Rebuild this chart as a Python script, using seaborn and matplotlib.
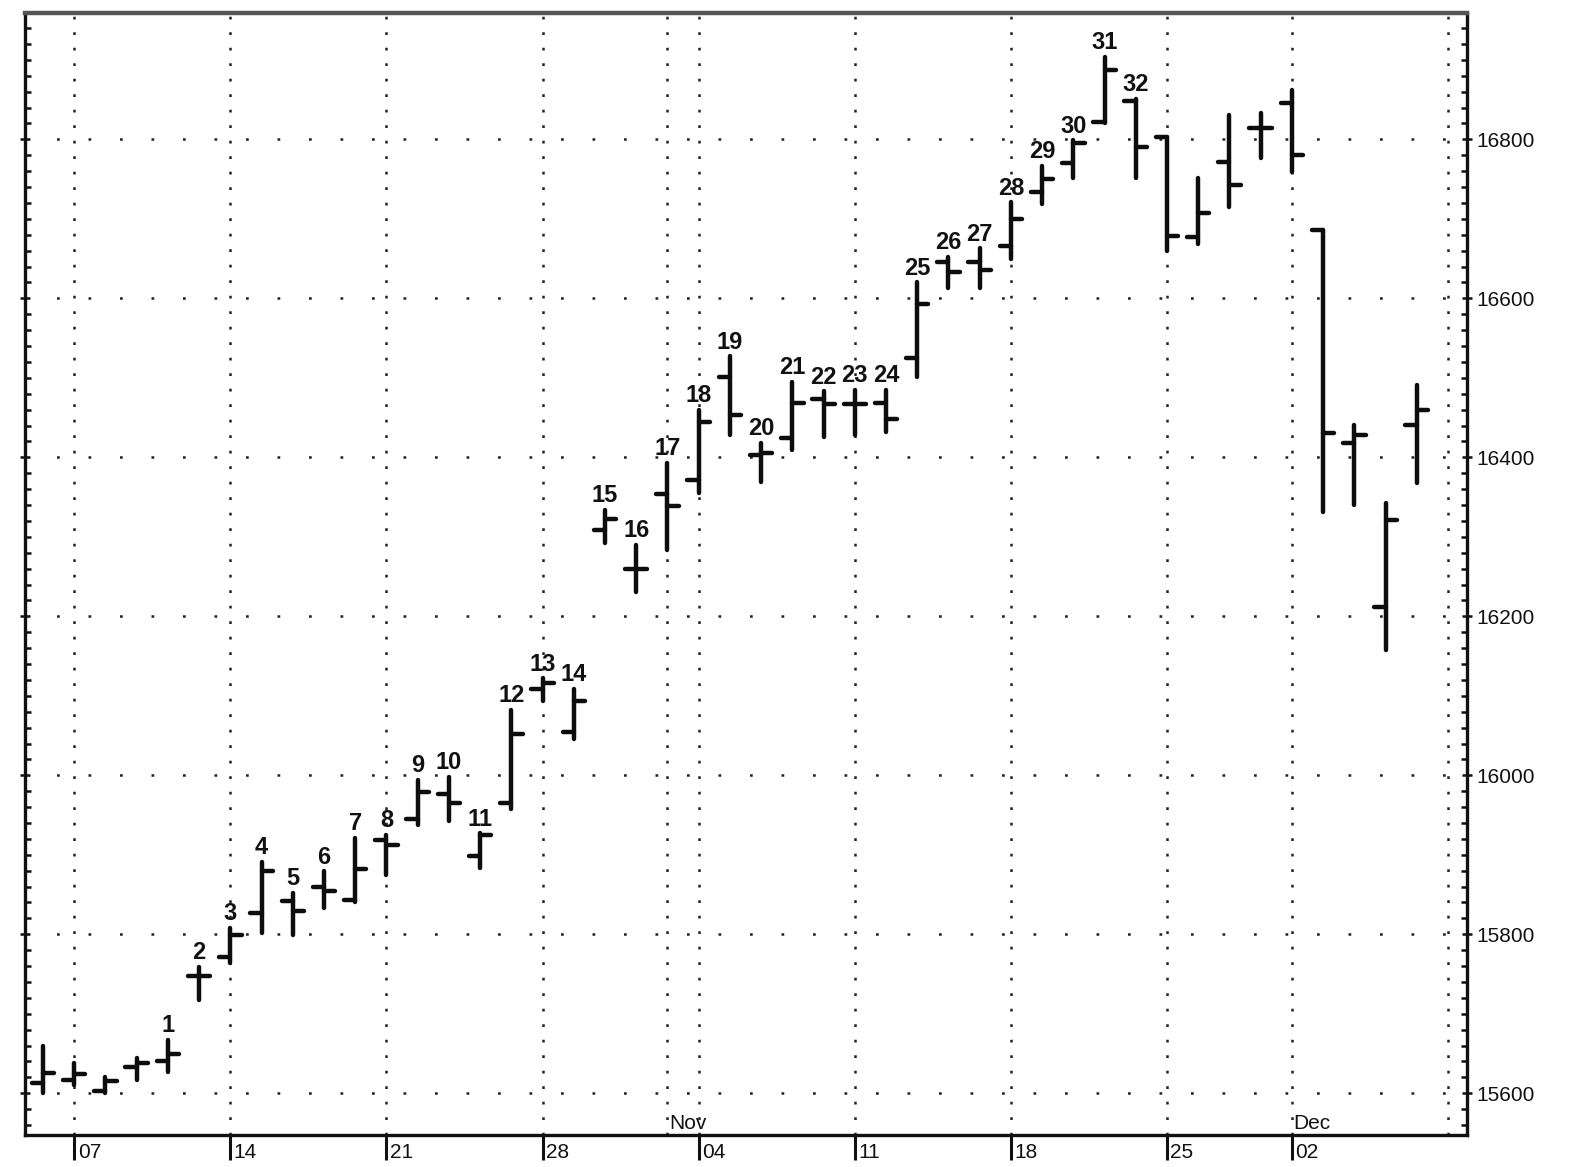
#!/usr/bin/env python
"""
plot.py
-------
Gráfico de barras OHLC diário (out-dez) com as barras numeradas de 1 a 32.
"""

import matplotlib
matplotlib.use("Agg")
import matplotlib.pyplot as plt
import seaborn as sns
import pandas as pd
from matplotlib.ticker import MultipleLocator

# Pregões (índice = dia útil, 0 = 04/out)
days = ["10-04", "10-07", "10-08", "10-09", "10-10", "10-11", "10-14", "10-15",
        "10-16", "10-17", "10-18", "10-21", "10-22", "10-23", "10-24", "10-25",
        "10-28", "10-29", "10-30", "10-31", "11-01", "11-04", "11-05", "11-06",
        "11-07", "11-08", "11-11", "11-12", "11-13", "11-14", "11-15", "11-18",
        "11-19", "11-20", "11-21", "11-22", "11-25", "11-26", "11-27", "11-29",
        "12-02", "12-03", "12-04", "12-05", "12-06"]

highs = [15659, 15638, 15621, 15644, 15667, 15759, 15808, 15891, 15852, 15879,
         15921, 15925, 15994, 15998, 15927, 16082, 16122, 16109, 16334, 16290,
         16393, 16460, 16527, 16418, 16495, 16483, 16485, 16485, 16620, 16652,
         16663, 16721, 16767, 16799, 16904, 16851, 16803, 16752, 16831, 16833,
         16862, 16686, 16441, 16343, 16491]
lows = [15600, 15610, 15600, 15617, 15627, 15717, 15764, 15801, 15799, 15833,
        15841, 15875, 15937, 15942, 15883, 15958, 16093, 16046, 16292, 16231,
        16283, 16355, 16428, 16369, 16409, 16426, 16428, 16432, 16501, 16613,
        16613, 16650, 16719, 16751, 16821, 16751, 16660, 16669, 16715, 16777,
        16759, 16331, 16340, 16158, 16368]
opens = [15613, 15617, 15603, 15633, 15640, 15747, 15771, 15827, 15842, 15860,
         15843, 15918, 15945, 15977, 15898, 15965, 16109, 16054, 16309, 16260,
         16354, 16372, 16501, 16403, 16424, 16474, 16467, 16468, 16525, 16646,
         16646, 16666, 16734, 16770, 16822, 16848, 16803, 16677, 16772, 16814,
         16846, 16686, 16418, 16212, 16441]
closes = [15625, 15624, 15615, 15638, 15650, 15747, 15799, 15879, 15829, 15854,
          15882, 15912, 15979, 15965, 15925, 16052, 16116, 16093, 16323, 16260,
          16339, 16445, 16453, 16406, 16468, 16467, 16467, 16448, 16593, 16633,
          16636, 16700, 16750, 16796, 16887, 16790, 16679, 16708, 16743, 16814,
          16780, 16431, 16428, 16321, 16460]

# Barras numeradas: 1..32 começando no pregão de 10/out
label_first_day = 4
bar_labels = [str(n) for n in range(1, 33)]

# Eixo X: segundas-feiras, marcas de mês e linhas de grade
week_days = [1, 6, 11, 16, 21, 26, 31, 36, 40]
week_labels = ["07", "14", "21", "28", "04", "11", "18", "25", "02"]
month_days = [20, 40]
month_labels = ["Nov", "Dec"]
grid_days = [1, 6, 11, 16, 20, 21, 26, 31, 36, 40, 45]
price_grid = [15600, 15800, 16000, 16200, 16400, 16600, 16800]

# Segmentos OHLC em formato longo para o seaborn
tick_w = 0.36
rows = []
for i in range(len(days)):
    rows += [(3 * i, i, lows[i]), (3 * i, i, highs[i])]
    rows += [(3 * i + 1, i - tick_w, opens[i]), (3 * i + 1, i, opens[i])]
    rows += [(3 * i + 2, i, closes[i]), (3 * i + 2, i + tick_w, closes[i])]
segs = pd.DataFrame(rows, columns=["seg", "x", "y"])

sns.set_theme(style="white")
plt.rcParams["font.family"] = ["Liberation Sans", "DejaVu Sans"]

fig = plt.figure(figsize=(15.72, 11.67), dpi=100)
ax = fig.add_axes([25 / 1572, 1 - 1135 / 1167, (1467 - 25) / 1572, (1135 - 13) / 1167])

# grade pontilhada
for g in grid_days:
    ax.axvline(g, color="#222222", lw=1.8, linestyle=(0, (1.1, 5.1)), zorder=1)
for p in price_grid:
    ax.axhline(p, color="#222222", lw=1.8, linestyle=(0, (1.1, 11.5)), zorder=1)

sns.lineplot(data=segs, x="x", y="y", units="seg", estimator=None, sort=False,
             color="#0d0d0d", linewidth=3.2, legend=False, ax=ax, zorder=3)

for k, lab in enumerate(bar_labels):
    d = label_first_day + k
    ax.annotate(lab, xy=(d, highs[d]), xytext=(0, 5.5), textcoords="offset points",
                ha="center", va="baseline", fontsize=17, fontweight="bold",
                color="#111111")

ax.set_xlim(-0.576, 45.61)
ax.set_ylim(15547.5, 16959)
ax.set_xlabel("")
ax.set_ylabel("")

# eixo Y: rótulos à direita, marcas dos dois lados
ax.set_yticks(price_grid)
ax.set_yticklabels([str(p) for p in price_grid])
ax.yaxis.set_minor_locator(MultipleLocator(20))
ax.tick_params(axis="y", which="both", left=True, right=True,
               labelleft=False, labelright=True, colors="#111111")
ax.tick_params(axis="y", which="major", direction="inout", length=7, width=1.8,
               labelsize=15, pad=3)
ax.tick_params(axis="y", which="minor", direction="in", length=4, width=1.8)

# eixo X: marcas longas para fora, rótulos à direita da marca
ax.set_xticks(week_days)
ax.set_xticklabels([""] * len(week_days))
ax.tick_params(axis="x", which="both", bottom=True, top=False, direction="out",
               length=18, width=2.2, colors="#111111")
for d, lab in zip(week_days, week_labels):
    ax.annotate(lab, xy=(d, 0), xycoords=("data", "axes fraction"),
                xytext=(2.5, -16.5), textcoords="offset points",
                ha="left", va="baseline", fontsize=15, color="#111111")
for d, lab in zip(month_days, month_labels):
    ax.annotate(lab, xy=(d, 0), xycoords=("data", "axes fraction"),
                xytext=(1.0, 4), textcoords="offset points",
                ha="left", va="baseline", fontsize=15, color="#111111")

for side in ["left", "bottom", "right"]:
    ax.spines[side].set_color("#111111")
    ax.spines[side].set_linewidth(2.4)
ax.spines["top"].set_color("#555555")
ax.spines["top"].set_linewidth(3.2)
ax.grid(False)

fig.savefig("out.png", dpi=100, facecolor="white")
